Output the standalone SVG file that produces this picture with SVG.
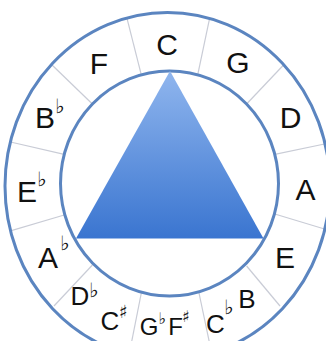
<svg xmlns="http://www.w3.org/2000/svg" width="326" height="341" viewBox="0 0 326 341">
<defs>
<linearGradient id="tri" x1="0" y1="0" x2="0" y2="1">
<stop offset="0" stop-color="#90b6ee"/>
<stop offset="1" stop-color="#3a75d0"/>
</linearGradient>
<style>
.ring{fill:none;stroke:#5b85c0;stroke-width:3}
.spoke{stroke:#c9ccd6;stroke-width:1.2}
.n{font-family:"Liberation Sans",Arial,sans-serif;font-size:30px;fill:#111;text-anchor:middle}
.s{font-family:"Liberation Sans",Arial,sans-serif;font-size:26px;fill:#111;text-anchor:middle}
.b{font-family:"Liberation Sans",Arial,sans-serif;font-size:24px;fill:#111;text-anchor:middle}
.acc{font-family:"DejaVu Sans",sans-serif;font-size:20px;fill:#111}
.acs{font-family:"DejaVu Sans",sans-serif;font-size:18px;fill:#111}
.act{font-family:"DejaVu Sans",sans-serif;font-size:16px;fill:#111}
</style>
</defs>
<rect width="326" height="341" fill="#fff"/>
<g id="connectors">
<line class="spoke" x1="197.7" y1="74.8" x2="209.6" y2="18.4"/>
<line class="spoke" x1="246.6" y1="104" x2="284" y2="64.5"/>
<line class="spoke" x1="274.8" y1="154.4" x2="324.5" y2="144"/>
<line class="spoke" x1="274.8" y1="214" x2="324.5" y2="229"/>
<line class="spoke" x1="246.6" y1="266" x2="280" y2="306"/>
<line class="spoke" x1="199" y1="293" x2="211" y2="350"/>
<line class="spoke" x1="141.3" y1="293" x2="130" y2="350"/>
<line class="spoke" x1="92.4" y1="265" x2="54" y2="306"/>
<line class="spoke" x1="64.2" y1="215" x2="10.5" y2="230.9"/>
<line class="spoke" x1="64.2" y1="154.4" x2="10.5" y2="142"/>
<line class="spoke" x1="92.4" y1="104" x2="51" y2="64"/>
<line class="spoke" x1="141.3" y1="74.8" x2="127" y2="18.4"/>
</g>
<g id="rings">
<ellipse class="ring" cx="167.5" cy="186" rx="162.5" ry="173.5"/>
<ellipse class="ring" cx="169.5" cy="183.5" rx="109" ry="112.5"/>
</g>
<g id="triangle">
<polygon points="170,71 76,238.5 263.5,238.5" fill="url(#tri)"/>
</g>
<g id="node-C"><text class="n" x="167" y="55">C</text></g>
<g id="node-G"><text class="n" x="238" y="73">G</text></g>
<g id="node-D"><text class="n" x="290.5" y="128">D</text></g>
<g id="node-A"><text class="n" x="305.5" y="200">A</text></g>
<g id="node-E"><text class="n" x="285" y="268">E</text></g>
<g id="node-B-Cb"><text class="s" x="247" y="308">B</text><text class="s" x="215.5" y="333">C</text><text class="acc" x="224" y="314">♭</text></g>
<g id="node-Gb-Fs"><text class="b" x="149" y="335">G</text><text class="act" x="158.5" y="324">♭</text><text class="b" x="175.5" y="335">F</text><text class="act" x="182" y="322">♯</text></g>
<g id="node-Db-Cs"><text class="s" x="80" y="305">D</text><text class="acc" x="89" y="297">♭</text><text class="s" x="110" y="330">C</text><text class="acs" x="119" y="318">♯</text></g>
<g id="node-Ab"><text class="n" x="48" y="268">A</text><text class="acc" x="60" y="250">♭</text></g>
<g id="node-Eb"><text class="n" x="27" y="202">E</text><text class="acc" x="37" y="186">♭</text></g>
<g id="node-Bb"><text class="n" x="45" y="128">B</text><text class="acc" x="55" y="113">♭</text></g>
<g id="node-F"><text class="n" x="99" y="74">F</text></g>
</svg>
